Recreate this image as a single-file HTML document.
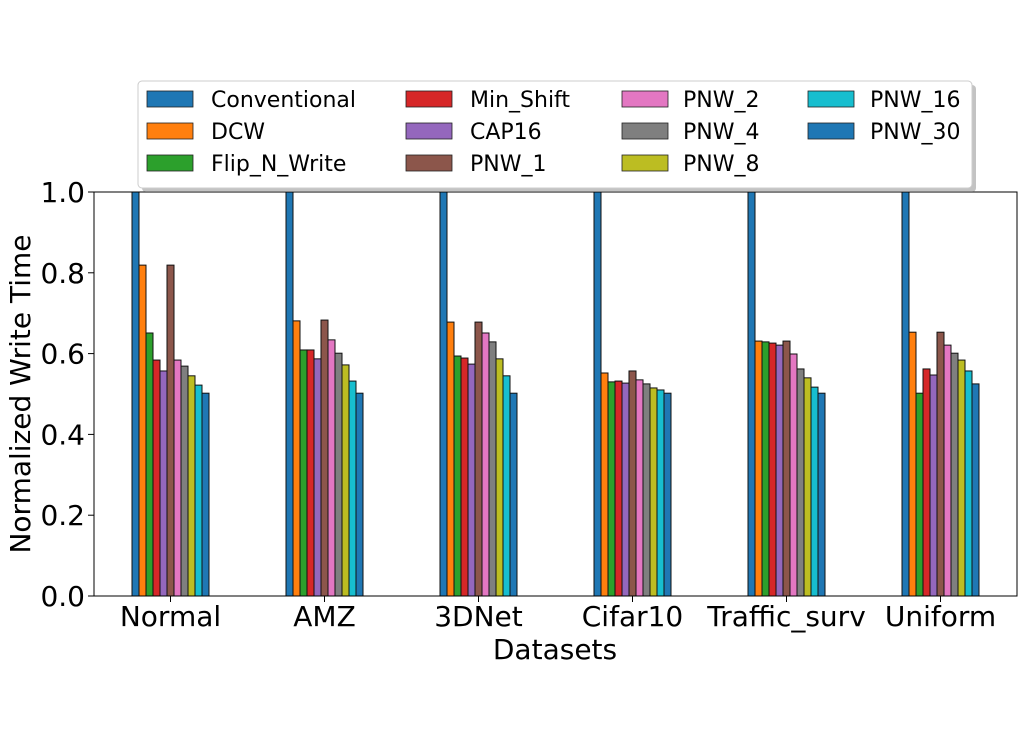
<!DOCTYPE html>
<html><head><meta charset="utf-8"><style>
html,body{margin:0;padding:0;background:#fff;}
svg{display:block;font-family:"DejaVu Sans","Liberation Sans",sans-serif;}
</style></head><body>
<svg id="chart" width="1022" height="747">
<g id="bars"></g>
<g id="axes"></g>
<g id="legend"></g>
</svg>
<script>
const categories = ["Normal","AMZ","3DNet","Cifar10","Traffic_surv","Uniform"];
const seriesNames = ["Conventional","DCW","Flip_N_Write","Min_Shift","CAP16","PNW_1","PNW_2","PNW_4","PNW_8","PNW_16","PNW_30"];
const colors = ["#1f77b4","#ff7f0e","#2ca02c","#d62728","#9467bd","#8c564b","#e377c2","#7f7f7f","#bcbd22","#17becf","#1f77b4"];
const vNormal = [1.0,0.819,0.651,0.584,0.557,0.819,0.584,0.569,0.545,0.522,0.502];
const vAMZ = [1.0,0.681,0.609,0.609,0.587,0.683,0.634,0.601,0.572,0.532,0.502];
const v3DNet = [1.0,0.678,0.594,0.589,0.574,0.678,0.651,0.629,0.587,0.545,0.502];
const vCifar = [1.0,0.552,0.530,0.532,0.527,0.557,0.535,0.525,0.515,0.510,0.502];
const vTraffic = [1.0,0.631,0.629,0.626,0.621,0.631,0.599,0.562,0.540,0.517,0.502];
const vUniform = [1.0,0.653,0.502,0.562,0.547,0.653,0.621,0.601,0.584,0.557,0.525];
const yTicks = [0.0,0.2,0.4,0.6,0.8,1.0];
const values = [vNormal,vAMZ,v3DNet,vCifar,vTraffic,vUniform];

const NS="http://www.w3.org/2000/svg";
const L=94,R=1017,T=192,B=596;
const y=v=>B-(v-0)/(1.0-0)*(B-T);
const x0=170.5, step=154;
const xc=i=>x0+i*step;
const bw=7;
function mk(tag,attrs,parent){const e=document.createElementNS(NS,tag);for(const k in attrs)e.setAttribute(k,attrs[k]);parent.appendChild(e);return e;}
const gb=document.getElementById('bars'),ga=document.getElementById('axes'),gl=document.getElementById('legend');
categories.forEach((c,i)=>{
  values[i].forEach((v,j)=>{
    const bx=xc(i)-11*bw/2+j*bw;
    const r=mk('rect',{x:bx,y:y(v),width:bw,height:B-y(v),fill:colors[j],stroke:'#111','stroke-width':1},gb);
    
    
  });
});
const fr=mk('rect',{x:L,y:T,width:R-L,height:B-T,fill:'none',stroke:'#000','stroke-width':1},ga);


yTicks.forEach(t=>{
  mk('line',{x1:L-6,x2:L,y1:y(t),y2:y(t),stroke:'#000'},ga);
  const tx=mk('text',{x:L-9,y:y(t)+10,'text-anchor':'end','font-size':28},ga);
  tx.textContent=t.toFixed(1);
  
  
});
categories.forEach((c,i)=>{
  mk('line',{x1:xc(i),x2:xc(i),y1:B,y2:B+6,stroke:'#000'},ga);
  const tx=mk('text',{x:xc(i),y:626,'text-anchor':'middle','font-size':28},ga);
  tx.textContent=c;
  
  
});
const xt=mk('text',{x:555,y:659,'text-anchor':'middle','font-size':28},ga);
xt.textContent='Datasets';


const yt=mk('text',{x:30,y:394,'text-anchor':'middle','font-size':28,transform:'rotate(-90 30 394)'},ga);
yt.textContent='Normalized Write Time';


mk('rect',{x:142,y:85,width:834,height:107,rx:4,fill:'#888','fill-opacity':0.5},gl);
const lb=mk('rect',{x:138,y:81,width:834,height:107,rx:4,fill:'#fff',stroke:'#ccc'},gl);


const colX=[147,406,622,808], textX=[211,470,683,870];
seriesNames.forEach((s,j)=>{
  const col=Math.floor(j/3),row=j%3;
  const cy=99+row*32;
  const p=mk('rect',{x:colX[col],y:cy-8,width:46,height:16,fill:colors[j],stroke:'#222','stroke-width':0.8},gl);
  
  
  const t=mk('text',{x:textX[col],y:cy+8,'font-size':22},gl);
  t.textContent=s;
  
  
});
</script>
</body></html>
